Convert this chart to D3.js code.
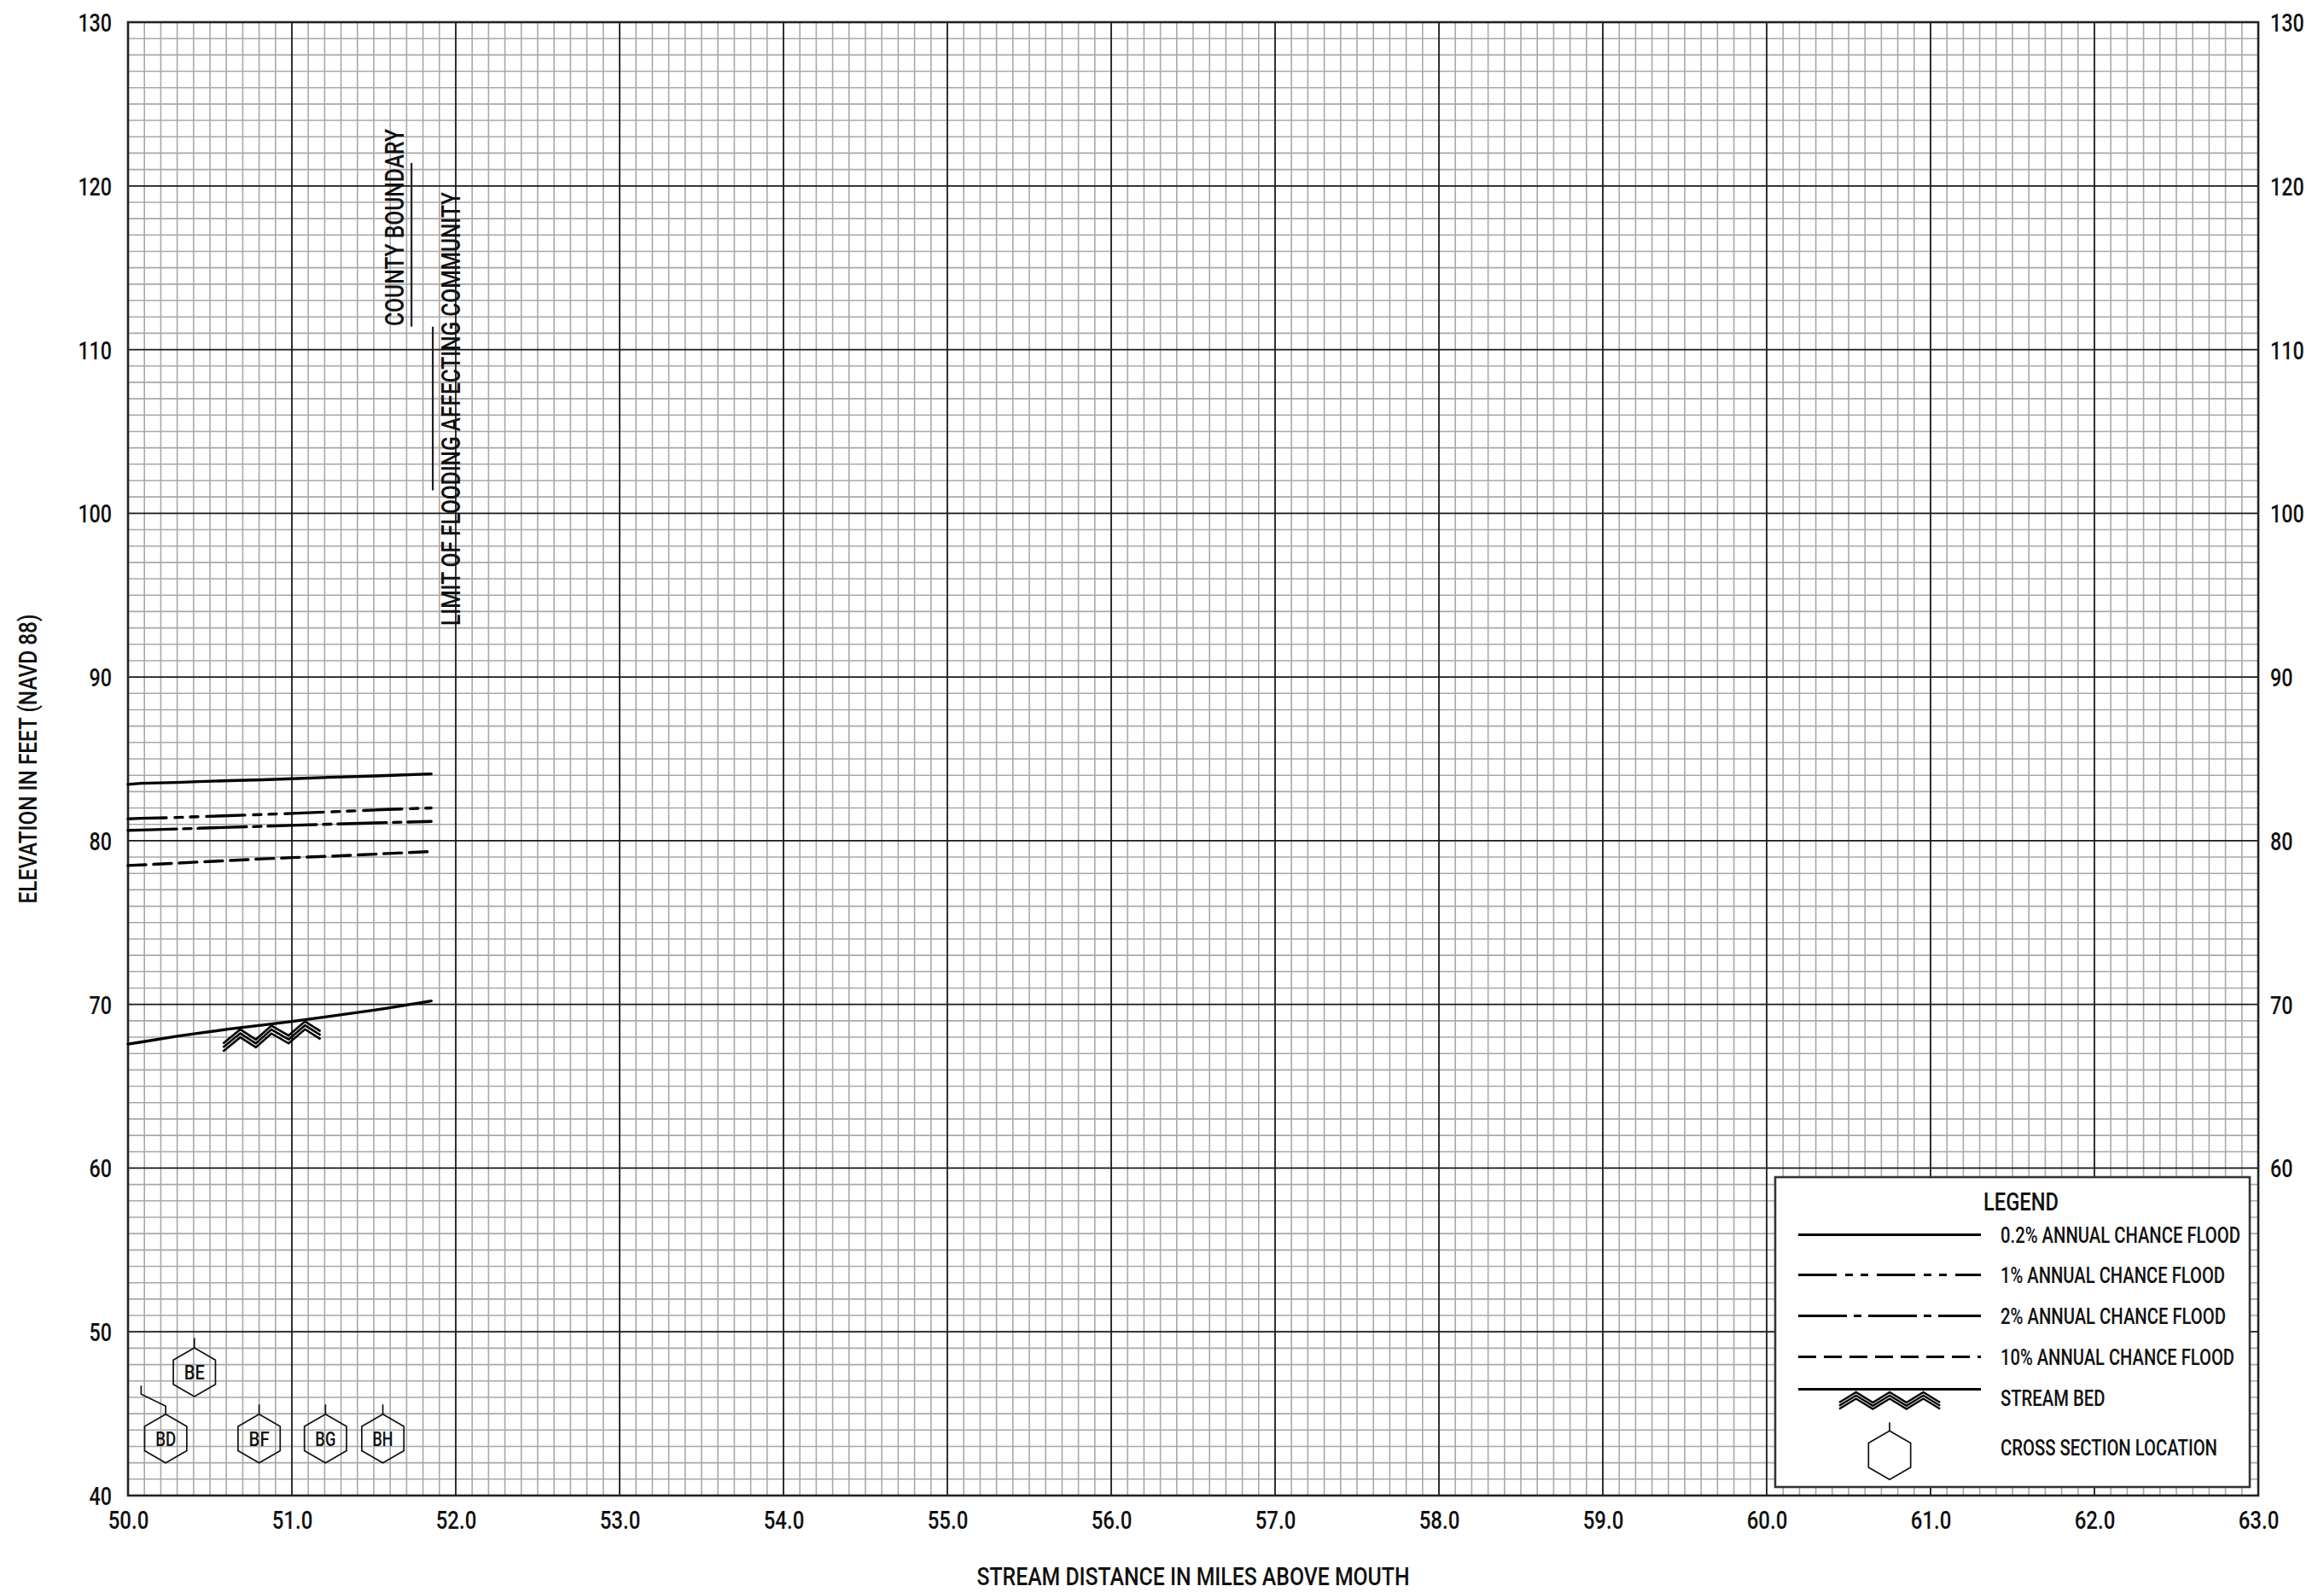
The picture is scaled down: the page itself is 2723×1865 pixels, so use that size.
<!DOCTYPE html>
<html>
<head>
<meta charset="utf-8">
<script src="https://cdn.jsdelivr.net/npm/d3@7"></script>
<style>
  html, body { margin: 0; padding: 0; background: #fff; }
  svg { display: block; }
  text { font-family: Roboto, "Liberation Sans", sans-serif; font-weight: 500; fill: #111; }
</style>
</head>
<body>
<svg id="chart" width="2723" height="1865"></svg>
<script>
// ---------------- DATA ----------------
const xDomain = [50, 63];
const yDomain = [40, 130];
const xTickLabels = ["50.0","51.0","52.0","53.0","54.0","55.0","56.0","57.0","58.0","59.0","60.0","61.0","62.0","63.0"];
const xTickValues = [50,51,52,53,54,55,56,57,58,59,60,61,62,63];
const yTickLeft = [40,50,60,70,80,90,100,110,120,130];
const yTickRight = [60,70,80,90,100,110,120,130];

const profileMiles = [50.0, 50.08, 50.30, 50.43, 50.62, 50.82, 51.0, 51.23, 51.51, 51.58, 51.85];
const flood02 = [83.44, 83.51, 83.56, 83.61, 83.67, 83.72, 83.79, 83.87, 83.96, 83.98, 84.08];
const flood1  = [81.34, 81.37, 81.42, 81.47, 81.53, 81.60, 81.67, 81.76, 81.88, 81.91, 82.00];
const flood2  = [80.63, 80.65, 80.72, 80.76, 80.82, 80.88, 80.94, 81.01, 81.09, 81.11, 81.18];
const flood10 = [78.49, 78.52, 78.63, 78.70, 78.79, 78.89, 78.97, 79.05, 79.18, 79.22, 79.34];
const streamBed = [67.58, 67.70, 68.06, 68.24, 68.50, 68.74, 68.96, 69.27, 69.66, 69.77, 70.21];

// stream-bed hatch zig-zag vertices (miles), alternating valley / apex
const bedHatchMiles = [50.58, 50.685, 50.78, 50.875, 50.98, 51.08, 51.175];

// cross sections: label, marker mile, marker elevation, leader target mile
const xsLabels = ["BD", "BE", "BF", "BG", "BH"];
const xsMiles  = [50.23, 50.405, 50.80, 51.205, 51.555];
const xsElev   = [43.48, 47.54, 43.48, 43.48, 43.48];
const xsLeaderMile = [50.08, null, null, null, null];

// annotations (vertical): label, mile of mark line, mark line elevation range
const annoLabels = ["COUNTY BOUNDARY", "LIMIT OF FLOODING AFFECTING COMMUNITY"];
const annoLineMiles = [51.73, 51.86];
const annoLineTop = [121.4, 111.4];
const annoLineBottom = [111.4, 101.4];

const legendLabels = ["0.2% ANNUAL CHANCE FLOOD","1% ANNUAL CHANCE FLOOD","2% ANNUAL CHANCE FLOOD","10% ANNUAL CHANCE FLOOD","STREAM BED","CROSS SECTION LOCATION"];

const xTitle = "STREAM DISTANCE IN MILES ABOVE MOUTH";
const yTitle = "ELEVATION IN FEET (NAVD 88)";

// ---------------- LAYOUT ----------------
const svg = d3.select("#chart");
const L = 150, R = 2646, T = 26, B = 1752;
const x = d3.scaleLinear().domain(xDomain).range([L, R]);
const y = d3.scaleLinear().domain(yDomain).range([B, T]);

// grid
const gGrid = svg.append("g");
const minorX = d3.range(0, 131).map(i => 50 + i / 10).filter((v, i) => i % 10 !== 0);
const minorY = d3.range(40, 131).filter(v => v % 10 !== 0);
gGrid.selectAll(".mx").data(minorX).join("line")
  .attr("x1", d => x(d)).attr("x2", d => x(d)).attr("y1", T).attr("y2", B)
  .attr("stroke", "#a8a8a8").attr("stroke-width", 1.6);
gGrid.selectAll(".my").data(minorY).join("line")
  .attr("y1", d => y(d)).attr("y2", d => y(d)).attr("x1", L).attr("x2", R)
  .attr("stroke", "#a8a8a8").attr("stroke-width", 1.6);
gGrid.selectAll(".Mx").data(xTickValues).join("line")
  .attr("x1", d => x(d)).attr("x2", d => x(d)).attr("y1", T).attr("y2", B)
  .attr("stroke", "#1a1a1a").attr("stroke-width", 1.8);
gGrid.selectAll(".My").data(yTickLeft).join("line")
  .attr("y1", d => y(d)).attr("y2", d => y(d)).attr("x1", L).attr("x2", R)
  .attr("stroke", "#1a1a1a").attr("stroke-width", 1.8);
svg.append("rect").attr("x", L).attr("y", T).attr("width", R - L).attr("height", B - T)
  .attr("fill", "none").attr("stroke", "#222").attr("stroke-width", 2.6);

// axes (tick labels via d3 axes, no tick lines)
const fitText = (sel, len) => sel.attr("textLength", len).attr("lengthAdjust", "spacingAndGlyphs");
const numLen = s => s.replace(/[^0-9]/g, "").length * 13.2 + (s.includes(".") ? 8 : 0);
const xAxis = d3.axisBottom(x).tickValues(xTickValues).tickFormat((d, i) => xTickLabels[i]).tickSize(0).tickPadding(0);
const gx = svg.append("g").attr("transform", `translate(0,${B})`).call(xAxis);
gx.select(".domain").remove();
gx.selectAll("text").attr("font-size", 29).attr("dy", null).attr("y", 39).attr("fill", "#111");
const yAxisL = d3.axisLeft(y).tickValues(yTickLeft).tickFormat(d3.format("d")).tickSize(0).tickPadding(0);
const gyl = svg.append("g").attr("transform", `translate(${L - 19},0)`).call(yAxisL);
gyl.select(".domain").remove();
gyl.selectAll("text").attr("font-size", 29).attr("dy", "0.36em").attr("x", 0).attr("fill", "#111");
const yAxisR = d3.axisRight(y).tickValues(yTickRight).tickFormat(d3.format("d")).tickSize(0).tickPadding(0);
const gyr = svg.append("g").attr("transform", `translate(${R + 14},0)`).call(yAxisR);
gyr.select(".domain").remove();
gyr.selectAll("text").attr("font-size", 29).attr("dy", "0.36em").attr("x", 0).attr("fill", "#111");
svg.selectAll(".tick text").attr("font-family", null)
  .each(function () { const t = d3.select(this); t.call(fitText, numLen(t.text())); });

// axis titles
svg.append("text").attr("x", (L + R) / 2).attr("y", 1857).attr("text-anchor", "middle")
  .attr("font-size", 29).text(xTitle).call(fitText, 507);
svg.append("text").attr("transform", `translate(43,${(T + B) / 2}) rotate(-90)`).attr("text-anchor", "middle")
  .attr("font-size", 30).text(yTitle).call(fitText, 339);

// ---------------- PROFILES ----------------
const series = [
  { vals: flood02, dash: null },
  { vals: flood1, dash: "45,10,9,9,9,10" },
  { vals: flood2, dash: "57,8,9,8" },
  { vals: flood10, dash: "21,9" },
  { vals: streamBed, dash: null }
];
const line = d3.line().x(d => x(d[0])).y(d => y(d[1]));
const gProf = svg.append("g");
series.forEach(s => {
  gProf.append("path")
    .attr("d", line(profileMiles.map((m, i) => [m, s.vals[i]])))
    .attr("fill", "none").attr("stroke", "#000").attr("stroke-width", 3.4)
    .attr("stroke-linecap", "round")
    .attr("stroke-dasharray", s.dash);
});

// stream-bed hatch
const bedAt = d3.scaleLinear().domain(profileMiles).range(streamBed);
function hatchPath(pts, off) { return d3.line()(pts.map(p => [p[0], p[1] + off])); }
const bedPts = bedHatchMiles.map((m, i) => [x(m), y(bedAt(m)) + (i % 2 === 0 ? 16 : 2)]);
[0, 4.6, 9.2].forEach(off => {
  gProf.append("path").attr("d", hatchPath(bedPts, off))
    .attr("fill", "none").attr("stroke", "#000").attr("stroke-width", 2.6);
});

// ---------------- CROSS SECTIONS ----------------
const HR = 28.5;
function hexPoints(cx, cy, r) {
  return d3.range(6).map(k => {
    const a = -Math.PI / 2 + k * Math.PI / 3;
    return [cx + r * Math.cos(a), cy + r * Math.sin(a)];
  });
}
const gXs = svg.append("g");
xsLabels.forEach((lab, i) => {
  const cx = x(xsMiles[i]), cy = y(xsElev[i]);
  gXs.append("polygon").attr("points", hexPoints(cx, cy, HR).map(p => p.join(",")).join(" "))
    .attr("fill", "none").attr("stroke", "#111").attr("stroke-width", 1.7);
  const topY = cy - HR;
  if (xsLeaderMile[i] != null) {
    const lx = x(xsLeaderMile[i]);
    gXs.append("path").attr("d", d3.line()([[cx, topY], [cx, topY - 9.5], [lx, topY - 23.5], [lx, topY - 33.5]]))
      .attr("fill", "none").attr("stroke", "#111").attr("stroke-width", 1.7);
  } else {
    gXs.append("line").attr("x1", cx).attr("x2", cx).attr("y1", topY).attr("y2", topY - 11.5)
      .attr("stroke", "#111").attr("stroke-width", 1.7);
  }
  gXs.append("text").attr("x", cx).attr("y", cy + 8.5).attr("text-anchor", "middle")
    .attr("font-size", 23.5).text(lab).call(fitText, 24);
});

// ---------------- ANNOTATIONS ----------------
const annoBaseX = [473, 539];
const annoStartY = [382, 733];
const annoLen = [231, 508];
annoLabels.forEach((lab, i) => {
  svg.append("text").attr("transform", `translate(${annoBaseX[i]},${annoStartY[i]}) rotate(-90)`)
    .attr("font-size", 30.5).text(lab).call(fitText, annoLen[i]);
  svg.append("line").attr("x1", x(annoLineMiles[i])).attr("x2", x(annoLineMiles[i]))
    .attr("y1", y(annoLineTop[i])).attr("y2", y(annoLineBottom[i]))
    .attr("stroke", "#222").attr("stroke-width", 2.2);
});

// ---------------- LEGEND ----------------
const lg = svg.append("g");
lg.append("rect").attr("x", 2080).attr("y", 1379).attr("width", 2636 - 2080).attr("height", 1742 - 1379)
  .attr("fill", "#fff").attr("stroke", "#333").attr("stroke-width", 2.6);
lg.append("text").attr("x", 2368).attr("y", 1418).attr("text-anchor", "middle")
  .attr("font-size", 30).text("LEGEND").call(fitText, 88);
const legLineY = [1446.5, 1493.5, 1541.5, 1589.5, 1627.5];
const legTextY = [1456, 1503, 1551, 1599, 1647, 1705];
const legTextLen = [281, 263, 264, 274, 122.5, 254];
series.forEach((s, i) => {
  lg.append("line").attr("x1", 2107).attr("x2", 2321).attr("y1", legLineY[i]).attr("y2", legLineY[i])
    .attr("stroke", "#000").attr("stroke-width", 2.9).attr("stroke-dasharray", s.dash);
});
const legHatch = d3.range(7).map(k => [2155 + k * 19.7, (k % 2 === 0 ? 1643 : 1631)]);
[0, 3.8, 7.6].forEach(off => {
  lg.append("path").attr("d", hatchPath(legHatch, off))
    .attr("fill", "none").attr("stroke", "#000").attr("stroke-width", 2.4);
});
lg.append("polygon").attr("points", hexPoints(2214, 1704.7, HR).map(p => p.join(",")).join(" "))
  .attr("fill", "none").attr("stroke", "#111").attr("stroke-width", 1.7);
lg.append("line").attr("x1", 2214).attr("x2", 2214).attr("y1", 1704.7 - HR).attr("y2", 1704.7 - HR - 10)
  .attr("stroke", "#111").attr("stroke-width", 1.7);
legendLabels.forEach((lab, i) => {
  lg.append("text").attr("x", 2344).attr("y", legTextY[i]).attr("font-size", 25.5)
    .text(lab).call(fitText, legTextLen[i]);
});
</script>
</body>
</html>
